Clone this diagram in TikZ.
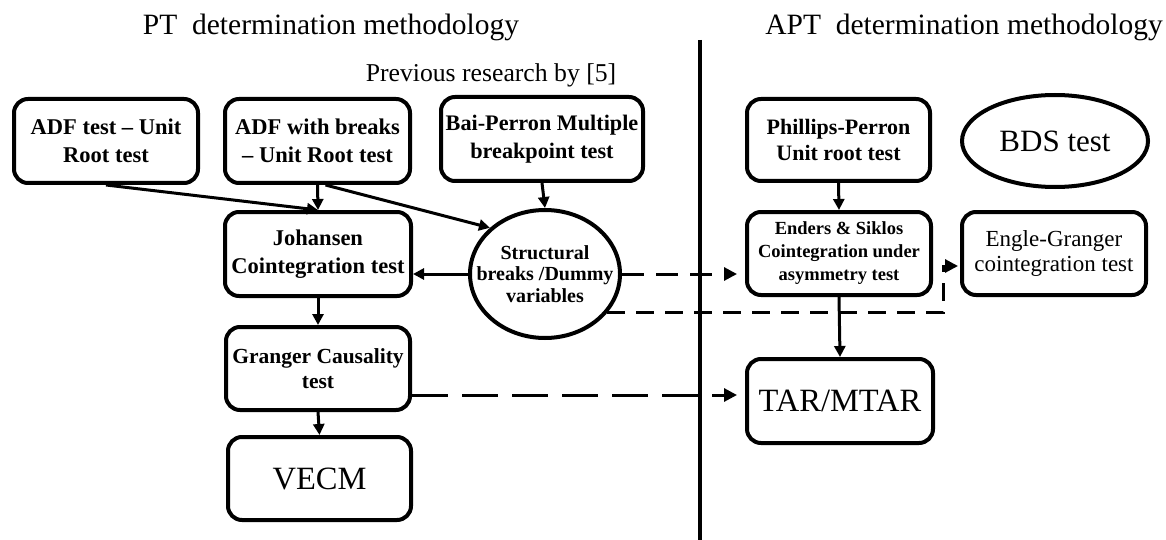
\documentclass[tikz,border=0pt]{standalone}
\usepackage{fontspec}
\setmainfont{Liberation Serif}
\usetikzlibrary{arrows.meta,shapes.geometric}
\tikzset{
  box/.style={draw, line width=4pt, rounded corners=14pt, align=center, inner sep=0pt},
  txtA/.style={font=\fontsize{22.5}{28}\selectfont\bfseries},
  txtBig/.style={font=\fontsize{32.5}{36}\selectfont},
  conn/.style={line width=3pt, -{Triangle[length=11pt,width=11pt]}},
  dconn/.style={line width=3pt, -{Triangle[length=13pt,width=13pt]}},
  title/.style={font=\fontsize{29.5}{32}\selectfont, anchor=base, inner sep=0pt},
}
\begin{document}
\begin{tikzpicture}[x=1pt,y=-1pt]
\useasboundingbox (0,0) rectangle (1166,540);

% titles
\node[title] (t1) at (331,35) {PT\ \ determination methodology};
\node[title] (t2) at (964,35) {APT\ \ determination methodology};
\node[title, font=\fontsize{25.7}{28}\selectfont] (prev) at (491,82) {Previous research by [5]};

% divider
\draw[line width=3.5pt] (700,40) -- (700,540);

% left side
\node[box, txtA, minimum width=184pt, minimum height=84pt] (adf) at (106,141) {ADF test – Unit\\Root test};
\node[box, txtA, minimum width=185pt, minimum height=84pt] (adfb) at (317.5,141) {ADF with breaks\\– Unit Root test};
\node[box, font=\fontsize{22.2}{28}\selectfont\bfseries, minimum width=202pt, minimum height=84pt] (bai) at (542,139) {Bai-Perron Multiple\\breakpoint test};
\node[box, txtA, minimum width=186pt, minimum height=84pt] (joh) at (318,254) {Johansen\\Cointegration test};
\node[draw, ellipse, line width=4pt, minimum width=150pt, minimum height=128pt, inner sep=0pt,
      label={[align=center, font=\fontsize{20}{21.5}\selectfont\bfseries]center:Structural\\breaks /Dummy\\variables}] (circ) at (545,274) {};
\node[box, font=\fontsize{21.5}{25}\selectfont\bfseries, minimum width=184pt, minimum height=83pt] (grang) at (318,368.5) {Granger Causality\\test};
\node[box, txtBig, minimum width=183pt, minimum height=83pt] (vecm) at (319.5,478.5) {VECM};

% right side
\node[box, font=\fontsize{22}{26}\selectfont\bfseries, minimum width=183pt, minimum height=82pt] (phil) at (838.5,140) {Phillips-Perron\\Unit root test};
\node[draw, ellipse, line width=4pt, minimum width=186pt, minimum height=92pt, inner sep=0pt, font=\fontsize{31}{34}\selectfont] (bds) at (1055,141) {BDS test};
\node[box, font=\fontsize{18.5}{23}\selectfont\bfseries, minimum width=184pt, minimum height=83pt] (ender) at (839,253.5) {Enders \& Siklos\\Cointegration under\\asymmetry test};
\node[box, font=\fontsize{23}{25}\selectfont, minimum width=184pt, minimum height=83pt] (engle) at (1054,253.5) {Engle-Granger\\cointegration test};
\node[box, txtBig, minimum width=186pt, minimum height=84pt] (tar) at (840,401) {TAR/MTAR};

% helper coordinates
\coordinate (egk) at (943,266);
\coordinate (gy) at (0,395);

% solid connectors
\draw[conn] (adf.south) -- (joh.north);
\draw[conn] (adfb.south) -- (joh.north);
\draw[conn] ([xshift=8pt]adfb.south) -- (circ.140);
\draw[conn] (bai.south) -- (circ.north);
\draw[conn] (circ.west) -- (circ.west -| joh.east);
\draw[conn] (joh.south) -- (grang.north);
\draw[conn] (grang.south) -- (vecm.north);
\draw[conn] (phil.south) -- (ender.north);
\draw[conn] (ender.south) -- (tar.north);

% dashed connectors
\draw[dconn, dash pattern=on 22pt off 12pt, shorten >=8pt] (circ.east) -- (circ.east -| ender.west);
\draw[dconn, dash pattern=on 18pt off 11pt, shorten >=2pt] (circ.-32) -| (egk) -- (egk -| engle.west);
\draw[dconn, dash pattern=on 36pt off 14pt, shorten >=8pt] (gy -| grang.east) -- (gy -| tar.west);
\end{tikzpicture}
\end{document}
